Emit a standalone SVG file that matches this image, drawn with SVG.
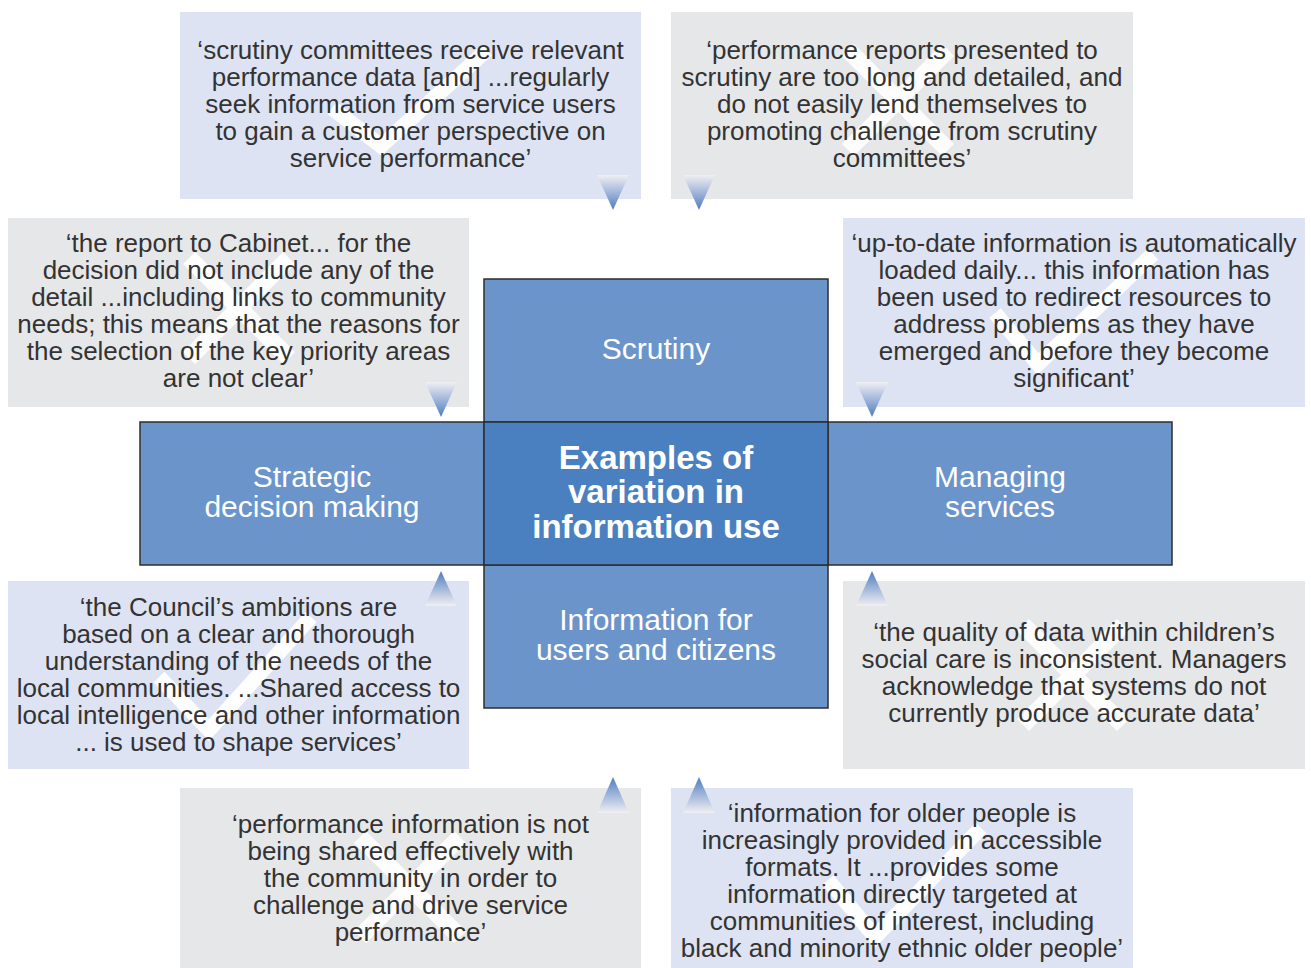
<svg xmlns="http://www.w3.org/2000/svg" width="1311" height="968" viewBox="0 0 1311 968">
<style>
.qb{fill:#dde3f3}
.qg{fill:#e6e7e9}
.q{font-family:"Liberation Sans",Arial,sans-serif;font-size:26px;fill:#333;text-anchor:middle}
.c{font-family:"Liberation Sans",Arial,sans-serif;font-size:30px;fill:#fff;text-anchor:middle}
.cb{font-family:"Liberation Sans",Arial,sans-serif;font-size:33px;font-weight:bold;fill:#fff;text-anchor:middle}
.cell{fill:#6b94cb;stroke:#2e2e2e;stroke-width:1.5}
.mid{fill:#4a7fc0;stroke:#2e2e2e;stroke-width:1.5}
.tick{fill:none;stroke:#fff;stroke-width:15;stroke-linejoin:miter;opacity:0.95}
.x{stroke:#fff;stroke-width:17;opacity:0.95}
.dn{fill:url(#gd)}
.up{fill:url(#gu)}
</style>
<defs>
<linearGradient id="gd" x1="0" y1="0" x2="0" y2="1">
<stop offset="0" stop-color="#f1eff3"/>
<stop offset="1" stop-color="#4f7dc0"/>
</linearGradient>
<linearGradient id="gu" x1="0" y1="1" x2="0" y2="0">
<stop offset="0" stop-color="#f1eff3"/>
<stop offset="1" stop-color="#4f7dc0"/>
</linearGradient>
</defs>
<rect width="1311" height="968" fill="#fff"/>

<g id="q1">
<rect class="qb" x="180" y="12" width="461" height="187"/>
<polyline class="tick" points="332,108 381,146 487,50"/>
<text class="q"><tspan x="410.5" y="59">‘scrutiny committees receive relevant</tspan><tspan x="410.5" y="86">performance data [and] ...regularly</tspan><tspan x="410.5" y="113">seek information from service users</tspan><tspan x="410.5" y="140">to gain a customer perspective on</tspan><tspan x="410.5" y="167">service performance’</tspan></text>
</g>

<g id="q2">
<rect class="qg" x="671" y="12" width="462" height="187"/>
<line class="x" x1="848" y1="50" x2="948" y2="150"/><line class="x" x1="948" y1="50" x2="848" y2="150"/>
<text class="q"><tspan x="902" y="59">‘performance reports presented to</tspan><tspan x="902" y="86">scrutiny are too long and detailed, and</tspan><tspan x="902" y="113">do not easily lend themselves to</tspan><tspan x="902" y="140">promoting challenge from scrutiny</tspan><tspan x="902" y="167">committees’</tspan></text>
</g>

<g id="q3">
<rect class="qg" x="8" y="218" width="461" height="189"/>
<line class="x" x1="189" y1="258" x2="289" y2="358"/><line class="x" x1="289" y1="258" x2="189" y2="358"/>
<text class="q"><tspan x="238.5" y="252">‘the report to Cabinet... for the</tspan><tspan x="238.5" y="279">decision did not include any of the</tspan><tspan x="238.5" y="306">detail ...including links to community</tspan><tspan x="238.5" y="333">needs; this means that the reasons for</tspan><tspan x="238.5" y="360">the selection of the key priority areas</tspan><tspan x="238.5" y="387">are not clear’</tspan></text>
</g>

<g id="q4">
<rect class="qb" x="843" y="218" width="462" height="189"/>
<polyline class="tick" points="995,313 1038,364 1153,254"/>
<text class="q"><tspan x="1074" y="252">‘up-to-date information is automatically</tspan><tspan x="1074" y="279">loaded daily... this information has</tspan><tspan x="1074" y="306">been used to redirect resources to</tspan><tspan x="1074" y="333">address problems as they have</tspan><tspan x="1074" y="360">emerged and before they become</tspan><tspan x="1074" y="387">significant’</tspan></text>
</g>

<g id="q5">
<rect class="qb" x="8" y="581" width="461" height="188"/>
<polyline class="tick" points="159,677 209,730 311,617"/>
<text class="q"><tspan x="238.5" y="616">‘the Council’s ambitions are</tspan><tspan x="238.5" y="643">based on a clear and thorough</tspan><tspan x="238.5" y="670">understanding of the needs of the</tspan><tspan x="238.5" y="697">local communities. ...Shared access to</tspan><tspan x="238.5" y="724">local intelligence and other information</tspan><tspan x="238.5" y="751">... is used to shape services’</tspan></text>
</g>

<g id="q6">
<rect class="qg" x="843" y="581" width="462" height="188"/>
<line class="x" x1="1023" y1="625" x2="1123" y2="725"/><line class="x" x1="1123" y1="625" x2="1023" y2="725"/>
<text class="q"><tspan x="1074" y="641">‘the quality of data within children’s</tspan><tspan x="1074" y="668">social care is inconsistent. Managers</tspan><tspan x="1074" y="695">acknowledge that systems do not</tspan><tspan x="1074" y="722">currently produce accurate data’</tspan></text>
</g>

<g id="q7">
<rect class="qg" x="180" y="788" width="461" height="180"/>
<line class="x" x1="360" y1="837" x2="460" y2="937"/><line class="x" x1="460" y1="837" x2="360" y2="937"/>
<text class="q"><tspan x="410.5" y="833">‘performance information is not</tspan><tspan x="410.5" y="860">being shared effectively with</tspan><tspan x="410.5" y="887">the community in order to</tspan><tspan x="410.5" y="914">challenge and drive service</tspan><tspan x="410.5" y="941">performance’</tspan></text>
</g>

<g id="q8">
<rect class="qb" x="671" y="788" width="462" height="180"/>
<polyline class="tick" points="828,880 875,937 981,828"/>
<text class="q"><tspan x="902" y="822">‘information for older people is</tspan><tspan x="902" y="849">increasingly provided in accessible</tspan><tspan x="902" y="876">formats. It ...provides some</tspan><tspan x="902" y="903">information directly targeted at</tspan><tspan x="902" y="930">communities of interest, including</tspan><tspan x="902" y="957">black and minority ethnic older people’</tspan></text>
</g>

<g id="scrutiny">
<rect class="cell" x="484" y="279" width="344" height="143"/>
<text class="c" x="656" y="359">Scrutiny</text>
</g>
<g id="strategic">
<rect class="cell" x="140" y="422" width="344" height="143"/>
<text class="c"><tspan x="312" y="487">Strategic</tspan><tspan x="312" y="517">decision making</tspan></text>
</g>
<g id="managing">
<rect class="cell" x="828" y="422" width="344" height="143"/>
<text class="c"><tspan x="1000" y="487">Managing</tspan><tspan x="1000" y="517">services</tspan></text>
</g>
<g id="information">
<rect class="cell" x="484" y="565" width="344" height="143"/>
<text class="c"><tspan x="656" y="630">Information for</tspan><tspan x="656" y="660">users and citizens</tspan></text>
</g>
<g id="centre">
<rect class="mid" x="484" y="422" width="344" height="143"/>
<text class="cb"><tspan x="656" y="469">Examples of</tspan><tspan x="656" y="503">variation in</tspan><tspan x="656" y="538">information use</tspan></text>
</g>

<g id="connectors">
<polygon class="dn" points="597,175 629,175 613,210"/>
<polygon class="dn" points="683,175 715,175 699,210"/>
<polygon class="dn" points="425,382 457,382 441,417"/>
<polygon class="dn" points="856,382 888,382 872,417"/>
<polygon class="up" points="425,606 457,606 441,571"/>
<polygon class="up" points="856,606 888,606 872,571"/>
<polygon class="up" points="597,813 629,813 613,777"/>
<polygon class="up" points="683,813 715,813 699,777"/>
</g>
</svg>
